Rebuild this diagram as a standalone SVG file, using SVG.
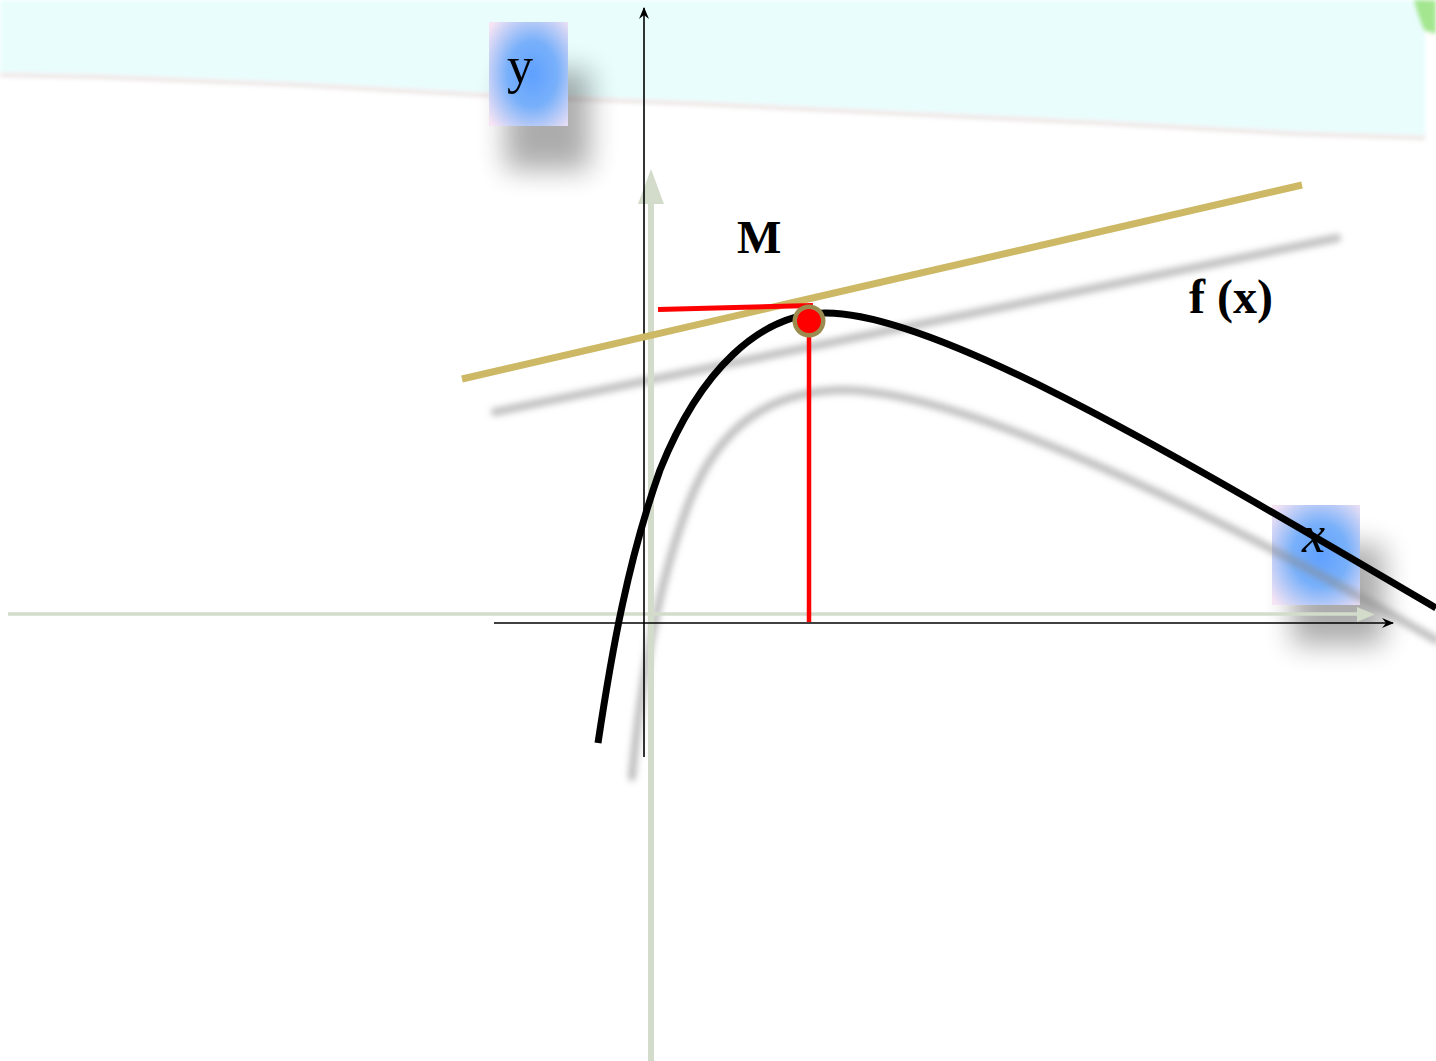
<svg xmlns="http://www.w3.org/2000/svg" width="1436" height="1061" viewBox="0 0 1436 1061">
  <style>
    .lbl { font-family: "Liberation Serif", "DejaVu Serif", serif; fill: #000; }
    .bold { font-weight: bold; }
    .axisBlack { stroke: #000; stroke-width: 1.6; fill: none; }
    .axisGrey { stroke: #d3dbca; fill: none; }
    .shadowLine { stroke: #8a8a8a; stroke-opacity: 0.55; fill: none; stroke-linecap: round; filter: url(#blur3); }
    .boxShadow { fill: #000; opacity: 0.32; filter: url(#blur14); }
  </style>
  <defs>
    <filter id="blur3" x="-20%" y="-20%" width="140%" height="140%">
      <feGaussianBlur stdDeviation="3"/>
    </filter>
    <filter id="blur14" x="-80%" y="-80%" width="260%" height="260%">
      <feGaussianBlur stdDeviation="14"/>
    </filter>
    <filter id="blur2" x="-10%" y="-10%" width="120%" height="120%">
      <feGaussianBlur stdDeviation="2"/>
    </filter>
    <radialGradient id="boxGrad" cx="0.55" cy="0.5" r="0.7">
      <stop offset="0" stop-color="#5fa0ff"/>
      <stop offset="0.45" stop-color="#78b0fa"/>
      <stop offset="1" stop-color="#f6e4f4"/>
    </radialGradient>
    <marker id="arrBlack" viewBox="0 0 12 10" refX="11" refY="5" markerWidth="12" markerHeight="10" markerUnits="userSpaceOnUse" orient="auto">
      <path d="M0,0 L12,5 L0,10 L4,5 z" fill="#000"/>
    </marker>
  </defs>

  <rect x="0" y="0" width="1436" height="1061" fill="#fff"/>

  <!-- background band -->
  <g id="band">
    <path d="M0,0 L1425,0 L1425,136 L1300,132 L1100,121 L700,102 L480,93 L300,83 L100,75 L0,73 Z" fill="#e9fdfd" filter="url(#blur2)"/>
    <path d="M0,75 L100,77 L300,85 L480,95 L700,104 L1100,123 L1300,134 L1425,138" stroke="#ece4e4" stroke-width="4" fill="none" filter="url(#blur2)"/>
    <path d="M1414,0 L1436,0 L1436,34 L1424,30 L1418,14 Z" fill="#a3e68f" filter="url(#blur2)"/>
  </g>

  <!-- label boxes -->
  <g id="label-y">
    <rect x="505" y="70" width="85" height="100" class="boxShadow"/>
    <rect x="489" y="22" width="79" height="104" fill="url(#boxGrad)"/>
    <text x="507" y="83" class="lbl" font-size="52">y</text>
  </g>

  <g id="label-x">
    <rect x="1292" y="545" width="92" height="100" class="boxShadow"/>
    <rect x="1272" y="505" width="88" height="100" fill="url(#boxGrad)"/>
    <text x="1302" y="552" class="lbl" font-size="52" font-style="italic">x</text>
  </g>

  <!-- shadows -->
  <g id="shadows">
    <line x1="495" y1="412" x2="1337" y2="238" class="shadowLine" stroke-width="8"/>
    <path d="M632,777 C640,690 655,590 690,500 C720,425 770,392 840,390 C960,388 1230,520 1436,640" class="shadowLine" stroke-width="8"/>
    <line x1="797" y1="345" x2="797" y2="632" class="shadowLine" stroke-width="7"/>
  </g>

  <!-- grey-green axes -->
  <g id="axes-grey">
    <line x1="8" y1="614" x2="1360" y2="614" class="axisGrey" stroke-width="3.5"/>
    <path d="M1375,614.5 L1357,607 L1357,622 Z" fill="#d3dbca"/>
    <line x1="651" y1="1061" x2="651" y2="200" class="axisGrey" stroke-width="6"/>
    <path d="M651,169 L638,204 L664,204 Z" fill="#d3dbca"/>
  </g>

  <!-- black axes -->
  <g id="axes-black">
    <line x1="644" y1="757" x2="644" y2="8" class="axisBlack" marker-end="url(#arrBlack)"/>
    <line x1="494" y1="623" x2="1393" y2="623" class="axisBlack" marker-end="url(#arrBlack)"/>
  </g>

  <!-- tangent line -->
  <g id="tangent">
    <line x1="462" y1="379" x2="1302" y2="185" stroke="#cdb865" stroke-width="7"/>
  </g>

  <!-- curve f(x) -->
  <g id="curve">
    <path d="M598,743 C612,650 628,560 660,470 C700,370 760,314 825,313 C940,312 1200,470 1436,608" stroke="#000" stroke-width="7" fill="none"/>
  </g>

  <!-- red guide lines -->
  <g id="guides">
    <line x1="658" y1="309.5" x2="813" y2="305.5" stroke="#ff0000" stroke-width="5"/>
    <line x1="809" y1="320" x2="809" y2="622" stroke="#ff0000" stroke-width="4.5"/>
  </g>

  <!-- point M -->
  <g id="point-M">
    <circle cx="809" cy="321" r="16.5" fill="#9c8b4f"/>
    <circle cx="809" cy="321" r="12" fill="#ff0000"/>
    <text x="737" y="253" class="lbl bold" font-size="47">M</text>
  </g>

  <g id="label-f">
    <text x="1189" y="313" class="lbl bold" font-size="48">f (x)</text>
  </g>
</svg>
